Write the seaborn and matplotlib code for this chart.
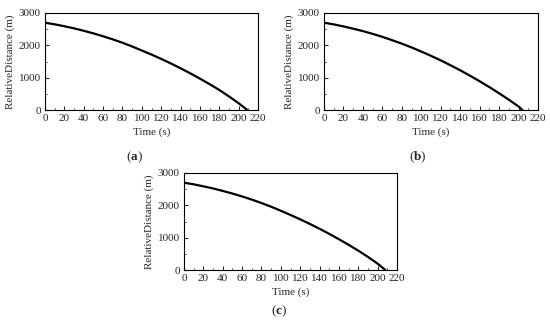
import matplotlib
matplotlib.use("Agg")
import matplotlib.pyplot as plt
import seaborn as sns
import pandas as pd
from matplotlib.ticker import MultipleLocator

sns.set_style("ticks")
plt.rcParams['font.family'] = ['Liberation Serif', 'DejaVu Serif']
plt.rcParams['mathtext.fontset'] = 'custom'
plt.rcParams['mathtext.bf'] = 'Liberation Serif:bold'
plt.rcParams['mathtext.rm'] = 'Liberation Serif'

# Data
time_a = [0, 10, 20, 30, 40, 50, 60, 70, 80, 90, 100, 110, 120, 130, 140, 150, 160, 170, 180, 190, 200, 209]
dist_a = [2700, 2650, 2590, 2525, 2450, 2370, 2280, 2185, 2080, 1965, 1840, 1715, 1580, 1440, 1290, 1135, 970, 800, 620, 420, 210, 0]

time_b = [0, 10, 20, 30, 40, 50, 60, 70, 80, 90, 100, 110, 120, 130, 140, 150, 160, 170, 180, 190, 200, 204]
dist_b = [2700, 2648, 2585, 2515, 2440, 2355, 2262, 2160, 2052, 1935, 1808, 1675, 1535, 1385, 1228, 1062, 890, 708, 518, 318, 110, 0]

time_c = [0, 10, 20, 30, 40, 50, 60, 70, 80, 90, 100, 110, 120, 130, 140, 150, 160, 170, 180, 190, 200, 208]
dist_c = [2700, 2650, 2588, 2522, 2446, 2365, 2275, 2178, 2072, 1957, 1832, 1703, 1567, 1425, 1275, 1118, 952, 780, 598, 405, 195, 0]

x_ticks = list(range(0, 221, 20))
y_ticks = [0, 1000, 2000, 3000]
captions = [r"($\mathbf{a}$)", r"($\mathbf{b}$)", r"($\mathbf{c}$)"]

W, H = 550, 322
fig = plt.figure(figsize=(5.5, 3.22), dpi=100)

def px_axes(l, t, r, b):
    return fig.add_axes([l / W, 1 - b / H, (r - l) / W, (b - t) / H])

panels = [
    (time_a, dist_a, (45, 13, 258, 110), (134, 157)),
    (time_b, dist_b, (324, 13, 538, 110), (418, 157)),
    (time_c, dist_c, (184, 173, 397, 270), (279, 311)),
]

fs = 8
for (t, d, box, cap), label in zip(panels, captions):
    ax = px_axes(*box)
    df = pd.DataFrame({"t": t, "d": d})
    sns.lineplot(data=df, x="t", y="d", ax=ax, color="black", linewidth=1.6)
    ax.set_xlim(0, 220)
    ax.set_ylim(0, 3000)
    ax.set_xticks(x_ticks)
    ax.set_yticks(y_ticks)
    ax.xaxis.set_minor_locator(MultipleLocator(10))
    ax.yaxis.set_minor_locator(MultipleLocator(500))
    ax.tick_params(which="major", direction="in", length=3, width=0.8, labelsize=fs, pad=3)
    ax.tick_params(which="minor", direction="in", length=1.5, width=0.6)
    for s in ax.spines.values():
        s.set_linewidth(0.8)
        s.set_color("black")
    ax.set_xlabel("Time (s)", fontsize=fs, labelpad=3)
    ax.set_ylabel("RelativeDistance (m)", fontsize=fs, labelpad=3)
    fig.text(cap[0] / W, 1 - cap[1] / H, label, ha="center", va="center", fontsize=9.5)

fig.savefig("out.png", dpi=100)
